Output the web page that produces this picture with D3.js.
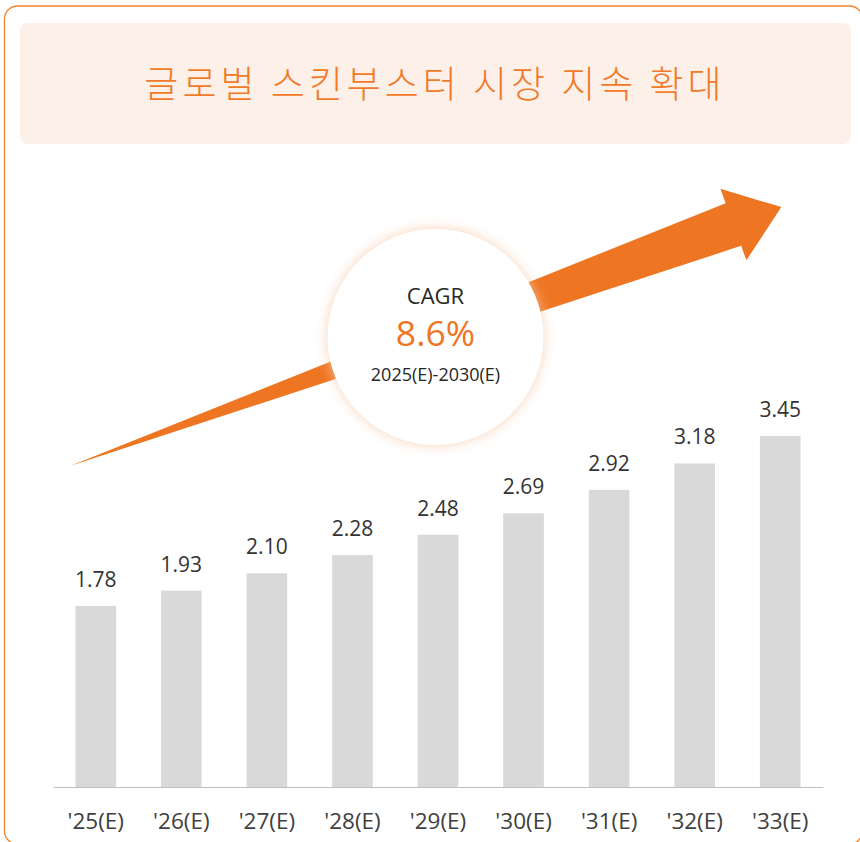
<!DOCTYPE html>
<html>
<head>
<meta charset="utf-8">
<script src="https://cdn.jsdelivr.net/npm/d3@7"></script>
<style>
  body { margin: 0; background: #fff; }
  svg { display: block; }
</style>
</head>
<body>
<svg id="chart" width="860" height="842"></svg>
<script>
// data
const years = ["'25(E)", "'26(E)", "'27(E)", "'28(E)", "'29(E)", "'30(E)", "'31(E)", "'32(E)", "'33(E)"];
const marketSize = [1.78, 1.93, 2.10, 2.28, 2.48, 2.69, 2.92, 3.18, 3.45];
const titleText = "글로벌 스킨부스터 시장 지속 확대";
const cagrLabel = "CAGR";
const cagrValue = "8.6%";
const cagrPeriod = "2025(E)-2030(E)";

const orange = "#EE7623";
const latin = "'Open Sans', 'Noto Sans', sans-serif";

const svg = d3.select("#chart");
const width = +svg.attr("width");

// glow filter for the CAGR bubble
const defs = svg.append("defs");
const glow = defs.append("filter").attr("id", "glow")
    .attr("x", "-30%").attr("y", "-30%").attr("width", "160%").attr("height", "160%");
glow.append("feGaussianBlur").attr("in", "SourceGraphic").attr("stdDeviation", 6);

// outer frame (right and bottom edges fall just outside the picture)
svg.append("rect")
    .attr("x", 4.5).attr("y", 6)
    .attr("width", 858).attr("height", 838)
    .attr("rx", 13)
    .attr("fill", "none")
    .attr("stroke", "#F0842F")
    .attr("stroke-width", 1.3);

// title box
svg.append("rect")
    .attr("x", 20).attr("y", 23)
    .attr("width", 831).attr("height", 121)
    .attr("rx", 8)
    .attr("fill", "#FDF0E8");

svg.append("text")
    .attr("x", width / 2 + 5).attr("y", 98)
    .attr("text-anchor", "middle")
    .attr("font-family", "'Noto Sans CJK KR', sans-serif")
    .attr("font-size", 37)
    .attr("font-weight", 300)
    .attr("letter-spacing", 4)
    .attr("fill", "#F07A28")
    .text(titleText);

//#region scales
const x = d3.scaleBand()
    .domain(years)
    .range([53, 823])
    .paddingInner(0.525)
    .paddingOuter(0.2625);

const y = d3.scaleLinear()
    .domain([0, d3.max(marketSize)])
    .range([787, 436]);
//#endregion

// bars
svg.append("g").selectAll("rect")
    .data(marketSize)
    .join("rect")
    .attr("x", (d, i) => x(years[i]))
    .attr("y", d => y(d))
    .attr("width", x.bandwidth())
    .attr("height", d => y(0) - y(d))
    .attr("fill", "#D9D9D9");

// value labels
svg.append("g").selectAll("text")
    .data(marketSize)
    .join("text")
    .attr("x", (d, i) => x(years[i]) + x.bandwidth() / 2)
    .attr("y", d => y(d) - 19)
    .attr("text-anchor", "middle")
    .attr("font-family", latin)
    .attr("font-size", 21)
    .attr("fill", "#333")
    .text(d => d3.format(".2f")(d));

// x axis
const xAxis = svg.append("g")
    .attr("transform", "translate(0," + y(0) + ")")
    .call(d3.axisBottom(x).tickSize(0).tickPadding(26));
xAxis.select(".domain").attr("stroke", "#BFBFBF").attr("stroke-width", 1.2);
xAxis.selectAll("text")
    .attr("font-family", latin)
    .attr("font-size", 22.5)
    .attr("fill", "#404040");

// growth arrow (tapered shaft + head), drawn along a -20 degree line
const arrowLen = 757, headLen = 51, shaftHalf = 22.7, headHalf = 38;
const arrowPts = [
    [0, 0],
    [arrowLen - headLen, -shaftHalf],
    [arrowLen - headLen, -headHalf],
    [arrowLen, 0],
    [arrowLen - headLen, headHalf],
    [arrowLen - headLen, shaftHalf]
];
svg.append("polygon")
    .attr("transform", "translate(70,466) rotate(-20)")
    .attr("points", arrowPts.map(p => p.join(",")).join(" "))
    .attr("fill", orange);

// CAGR bubble
const bubble = svg.append("g").attr("transform", "translate(435.5,337)");
bubble.append("circle")
    .attr("r", 109)
    .attr("fill", "#F6C9A8")
    .attr("opacity", 0.7)
    .attr("filter", "url(#glow)");
bubble.append("circle")
    .attr("r", 108)
    .attr("fill", "#fff");

bubble.append("text")
    .attr("y", -33)
    .attr("text-anchor", "middle")
    .attr("font-family", latin)
    .attr("font-size", 22)
    .attr("fill", "#262626")
    .text(cagrLabel);
bubble.append("text")
    .attr("y", 8.5)
    .attr("text-anchor", "middle")
    .attr("font-family", latin)
    .attr("font-size", 35.5)
    .attr("fill", orange)
    .text(cagrValue);
bubble.append("text")
    .attr("y", 44)
    .attr("text-anchor", "middle")
    .attr("font-family", latin)
    .attr("font-size", 18)
    .attr("fill", "#262626")
    .text(cagrPeriod);
</script>
</body>
</html>
